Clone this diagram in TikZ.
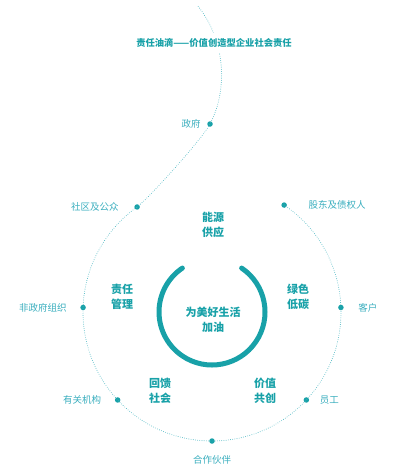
\documentclass[tikz,border=0pt]{standalone}
\usepackage{fontspec}
\setmainfont{Noto Sans CJK SC}
\usetikzlibrary{positioning}
\definecolor{tealA}{RGB}{24,161,168}
\definecolor{tealB}{RGB}{58,174,190}
\definecolor{tealC}{RGB}{70,180,192}
\begin{document}
\begin{tikzpicture}[x=1pt, y=-1pt, font=\fontsize{9.5}{11}\selectfont,
    dot/.style={circle, fill=tealA, inner sep=0pt, minimum size=5.5pt},
    lbl/.style={text=tealB},
    theme/.style={text=tealA, font=\fontsize{11}{14.5}\selectfont\bfseries, align=center},
    dotline/.style={draw=tealC, line width=0.9pt, dash pattern=on 0pt off 2.2pt, line cap=round}]
  \useasboundingbox (0,0) rectangle (400,474);
  \coordinate (o) at (212,312);
  \coordinate (tip) at (197,5);
  % stakeholders on the drop
  \node[dot] (gd) at ([shift={(-56:129)}]o) {};
  \node[dot] (kh) at ([shift={(-2:129)}]o) {};
  \node[dot] (yg) at ([shift={(43:129)}]o) {};
  \node[dot] (hz) at ([shift={(90:129)}]o) {};
  \node[dot] (jg) at ([shift={(137:129)}]o) {};
  \node[dot] (fz) at ([shift={(182:129)}]o) {};
  \node[dot] (sq) at ([shift={(234.5:129)}]o) {};
  \node[dot] (zf) at (210,124) {};
  \node[lbl, right=18pt of gd] {股东及债权人};
  \node[lbl, right=11pt of kh] {客户};
  \node[lbl, right=7pt of yg] {员工};
  \node[lbl, below=8pt of hz] {合作伙伴};
  \node[lbl, left=10pt of jg] {有关机构};
  \node[lbl, left=10pt of fz] {非政府组织};
  \node[lbl, left=12pt of sq] {社区及公众};
  \node[lbl, left=3pt of zf] {政府};
  \draw[dotline] (gd) arc[start angle=-56, end angle=234.5, radius=129];
  \draw[dotline] (sq.center) .. controls (150,197) and (203,138) .. (zf.center)
    .. controls (228,90) and (226,40) .. (tip);
  \node[theme, fill=white, inner xsep=2pt, inner ysep=5pt] (tt) at (214,43)
    {\fontsize{9.3}{11}\selectfont 责任油滴——价值创造型企业社会责任};
  % the inner ring
  \draw[tealA, line width=5pt, line cap=round]
    ([shift={(-56:53)}]o) arc[start angle=-56, end angle=236, radius=53];
  \node[theme] (jy) at (213,320) {为美好生活\\加油};
  \node[theme] (ny) at (213,225) {能源\\供应};
  \node[theme] (zr) at (122,297) {责任\\管理};
  \node[theme] (ls) at (298,297) {绿色\\低碳};
  \node[theme] (hk) at (160,391) {回馈\\社会};
  \node[theme] (jz) at (265,391) {价值\\共创};
\end{tikzpicture}
\end{document}
